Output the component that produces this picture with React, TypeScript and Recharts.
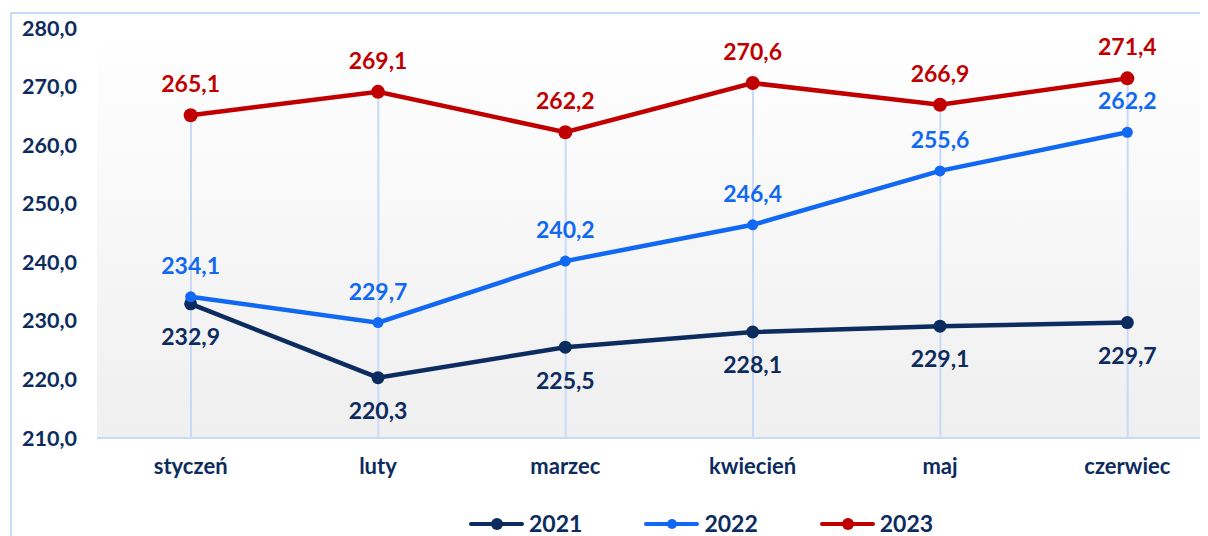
import React from 'react';
import { ComposedChart, Line, Bar, XAxis, YAxis, CartesianGrid, LabelList } from 'recharts';

const MONTHS = ['styczeń', 'luty', 'marzec', 'kwiecień', 'maj', 'czerwiec'];
const Y2021 = [232.9, 220.3, 225.5, 228.1, 229.1, 229.7];
const Y2022 = [234.1, 229.7, 240.2, 246.4, 255.6, 262.2];
const Y2023 = [265.1, 269.1, 262.2, 270.6, 266.9, 271.4];
const Y_TICKS = [210, 220, 230, 240, 250, 260, 270, 280];

const NAVY = '#0c2b5e';
const BLUE = '#1068f3';
const RED = '#c00000';
const PALE = '#c8daf7';

const SERIES = [
  { key: 'y2021', name: '2021', color: NAVY, r: 6.5, legendR: 6, pos: 'bottom' as const },
  { key: 'y2022', name: '2022', color: BLUE, r: 5.5, legendR: 5, pos: 'top' as const },
  { key: 'y2023', name: '2023', color: RED, r: 7, legendR: 6, pos: 'top' as const },
];

const data = MONTHS.map((m, i) => ({
  month: m,
  y2021: Y2021[i],
  y2022: Y2022[i],
  y2023: Y2023[i],
  // drop line reaches the highest point of the category
  drop: Math.max(Y2021[i], Y2022[i], Y2023[i]),
}));

const fmt = (v: any) => Number(v).toFixed(1).replace('.', ',');

const LegendBox = () => (
  <div
    style={{
      position: 'absolute',
      top: 512,
      left: 469,
      height: 23,
      display: 'flex',
      alignItems: 'center',
      fontSize: 23,
      fontWeight: 700,
      color: NAVY,
    }}
  >
    {SERIES.map((s) => (
      <div key={s.key} style={{ display: 'flex', alignItems: 'center', marginRight: 62 }}>
        <svg width={55} height={16} style={{ marginRight: 5 }}>
          <line x1={2} y1={8} x2={53} y2={8} stroke={s.color} strokeWidth={4} strokeLinecap="round" />
          <circle cx={28} cy={8} r={s.legendR} fill={s.color} />
        </svg>
        <span style={{ lineHeight: '23px', display: 'block', height: 23 }}>{s.name}</span>
      </div>
    ))}
  </div>
);

export default function App() {
  return (
    <div
      style={{
        position: 'relative',
        width: 1208,
        height: 544,
        margin: -8,
        overflow: 'hidden',
        background: '#fff',
        fontFamily: 'Lato, sans-serif',
      }}
    >
      {/* outer frame */}
      <div
        style={{
          position: 'absolute',
          left: 10,
          top: 12,
          width: 1300,
          height: 600,
          borderLeft: `2px solid ${PALE}`,
          borderTop: `2px solid ${PALE}`,
        }}
      />
      <div style={{ position: 'absolute', left: 0, top: 0 }}>
        <ComposedChart
          width={1221}
          height={536}
          data={data}
          margin={{ top: 28, right: 0, left: 0, bottom: 48 }}
        >
          <defs>
            <linearGradient id="plotBg" x1="0" y1="0" x2="0" y2="1">
              <stop offset="0" stopColor="#ffffff" />
              <stop offset="0.12" stopColor="#fdfdfd" />
              <stop offset="1" stopColor="#efefef" />
            </linearGradient>
          </defs>
          <CartesianGrid horizontal={false} vertical={false} fill="url(#plotBg)" stroke="none" />
          <XAxis
            dataKey="month"
            axisLine={{ stroke: PALE, strokeWidth: 2 }}
            tickLine={false}
            tickSize={0}
            tickMargin={20}
            height={50}
            interval={0}
            tick={{ fill: NAVY, fontSize: 22, fontWeight: 700, fontFamily: 'Lato' }}
          />
          <YAxis
            domain={[210, 280]}
            ticks={Y_TICKS}
            axisLine={false}
            tickLine={false}
            tickSize={0}
            tickMargin={20}
            width={97}
            tickFormatter={fmt}
            tick={{ fill: NAVY, fontSize: 21.5, fontWeight: 700, fontFamily: 'Lato' }}
          />
          <Bar dataKey="drop" barSize={2} fill={PALE} isAnimationActive={false} />
          {SERIES.map((s) => (
            <Line
              key={s.key}
              dataKey={s.key}
              name={s.name}
              stroke={s.color}
              strokeWidth={4.5}
              dot={{ r: s.r, fill: s.color, stroke: 'none' }}
              activeDot={false}
              isAnimationActive={false}
            >
              <LabelList
                dataKey={s.key}
                position={s.pos}
                offset={s.pos === 'top' ? 23 : 25}
                formatter={fmt}
                fill={s.color}
                fontSize={23}
                fontWeight={700}
                fontFamily="Lato"
              />
            </Line>
          ))}
        </ComposedChart>
      </div>
      <LegendBox />
    </div>
  );
}
